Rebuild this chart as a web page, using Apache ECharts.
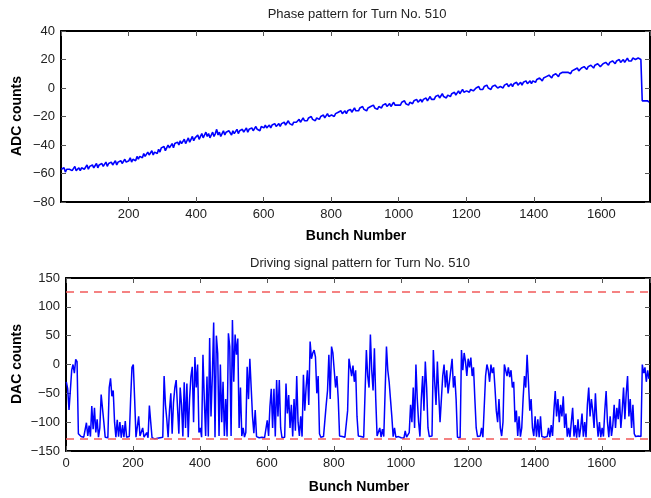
<!DOCTYPE html>
<html>
<head>
<meta charset="utf-8">
<script src="https://cdn.jsdelivr.net/npm/echarts@6/dist/echarts.min.js"></script>
<style>
  html, body { margin: 0; padding: 0; background: #fff; }
  #chart { width: 651px; height: 498px; }
</style>
</head>
<body>
<div id="chart"></div>
<script>
// Bunch sampling: one recorded value every BUNCH_STEP bunches, starting at BUNCH_FIRST
const TURN = 510;
const BUNCH_FIRST = 1;
const BUNCH_STEP = 4;
const BUNCH_MAX = 1744;
const bunchTicks = [0, 200, 400, 600, 800, 1000, 1200, 1400, 1600];
const adcTicks = [-80, -60, -40, -20, 0, 20, 40];
const dacTicks = [-150, -100, -50, 0, 50, 100, 150];
// DAC saturation limits
const dacLimits = [127, -128];

// Phase pattern (ADC counts), bunches 1..1741
const phaseAdc = [
  -57,-58,-56,-59,-57,-58,-57,-56,-58,-57,-55,-58,-57,-56,-58,-56,-55,-57,-56,-54,-57,-55,-56,-54,-56,
  -55,-53,-56,-54,-55,-53,-55,-54,-52,-55,-53,-54,-52,-54,-53,-51,-54,-52,-53,-51,-53,-52,-50,-52,-51,
  -51,-49,-52,-50,-49,-51,-48,-50,-48,-47,-49,-46,-48,-47,-45,-47,-46,-44,-47,-45,-44,-46,-43,-45,-42,
  -43,-41,-44,-42,-40,-42,-41,-39,-42,-39,-40,-38,-40,-37,-39,-38,-36,-39,-37,-35,-38,-36,-34,-37,-35,
  -35,-33,-36,-34,-32,-35,-33,-31,-34,-32,-35,-33,-31,-34,-32,-29,-33,-31,-34,-32,-30,-33,-31,-32,-30,
  -31,-33,-30,-32,-31,-29,-32,-30,-31,-29,-31,-30,-28,-31,-29,-30,-28,-30,-29,-27,-29,-28,-30,-27,-28,
  -28,-26,-28,-27,-26,-28,-26,-27,-25,-27,-26,-25,-27,-25,-26,-24,-26,-25,-23,-25,-24,-26,-24,-23,-24,
  -24,-22,-24,-23,-21,-23,-22,-23,-21,-22,-20,-22,-21,-23,-21,-20,-22,-20,-21,-19,-21,-20,-18,-20,-19,
  -19,-18,-20,-18,-19,-17,-18,-16,-18,-17,-16,-18,-16,-17,-15,-17,-16,-14,-16,-15,-16,-14,-15,-13,-15,
  -14,-16,-14,-15,-13,-14,-12,-14,-13,-15,-13,-12,-14,-12,-13,-11,-13,-12,-11,-13,-12,-10,-12,-11,-12,
  -11,-12,-10,-11,-9,-11,-10,-12,-10,-9,-11,-9,-10,-8,-10,-9,-8,-10,-8,-9,-7,-9,-8,-6,-8,
  -7,-8,-6,-7,-5,-7,-6,-4,-6,-5,-7,-5,-4,-6,-4,-5,-3,-5,-4,-2,-4,-3,-1,-3,-2,
  -2,-1,-3,-1,0,-2,-1,0,-1,1,-1,0,-1,1,0,2,0,1,-1,1,0,2,1,0,1,
  1,2,0,2,1,3,1,2,3,1,3,2,4,2,3,4,2,4,3,5,3,4,5,3,5,
  5,4,6,5,7,6,5,7,6,8,7,9,8,7,9,8,10,9,8,10,9,11,10,11,10,
  11,12,10,12,11,13,12,14,12,13,14,13,15,14,13,15,14,16,15,14,16,15,17,16,15,
  16,17,16,18,17,16,18,17,19,18,17,19,18,20,18,19,20,18,19,21,19,20,19,21,20,
  20,19,21,20,20,-9,-10,-9,-8,-9,-10
];

// Driving signal pattern (DAC counts), bunches 1..1741
const drivingDac = [
  -30,-42,-79,-45,-10,0,-15,9,5,-120,-123,-125,-124,-126,-125,-101,-124,-106,-125,-72,-112,-75,-118,-95,-126,
  -110,-52,-49,-100,-126,-124,-127,-40,-24,-55,-45,-100,-126,-96,-125,-100,-127,-105,-126,-98,-126,-127,-125,-60,-5,
  0,-60,-126,-125,-90,-124,-127,-110,-126,-128,-118,-127,-71,-100,-127,-128,-129,-127,-128,-129,-127,-128,-126,-20,-70,
  -95,-126,-80,-50,-120,-66,-40,-27,-74,-120,-40,-70,-125,-31,-110,-33,-126,-60,-21,-4,-100,13,-40,0,-118,
  -110,-126,17,-60,-124,-21,-125,46,-90,-20,73,-126,50,20,-124,0,-100,-30,-124,-60,-125,54,31,-124,77,
  -30,52,17,45,-110,-40,-124,-110,-126,-118,-4,-60,10,-40,-90,-119,-79,-125,-126,-127,-128,-126,-129,-127,-128,
  -97,-124,-73,-42,-110,-42,-125,-27,-90,-27,-110,-127,-128,-126,-33,-85,-53,-110,-70,-125,-60,-115,-20,-100,-124,
  -90,-125,-18,-80,-40,-10,-70,40,10,20,25,13,-50,-20,-120,-126,-127,-125,-126,-70,-45,17,-60,31,20,
  -10,-40,-20,-60,-124,-126,-125,-127,-126,-124,-80,10,-5,-20,-2,-30,-10,-90,-124,-126,-125,-127,-126,-124,25,
  -20,-40,52,-10,-45,28,-60,-124,-125,-110,-126,-112,-125,-124,31,-10,-30,-60,-90,-125,-110,-126,-127,-125,-126,
  -127,-126,-128,-115,-126,-127,-118,-70,-100,-40,-110,0,-60,-100,-125,-60,-20,-80,5,-40,-110,-125,-126,-124,25,
  -30,-70,5,-50,-100,-60,-20,0,-40,-10,-50,-30,-10,10,-40,-20,-60,-126,-125,-127,25,-10,20,5,-20,
  10,-5,12,-20,-5,-60,-110,-125,-126,-124,-110,-126,-125,-20,0,-10,-30,0,-15,-5,-40,-80,-100,-60,-110,
  -124,-100,0,-10,-20,-5,-22,-10,-40,-30,-100,-80,-124,-90,-125,-110,-60,-20,-40,17,-30,-80,-60,-110,-124,
  -90,-125,-95,-126,-90,-125,-127,-126,-128,-125,-110,-126,-105,-124,-80,-46,-90,-60,-100,-70,-90,-55,-110,-85,-125,
  -110,-126,-100,-75,-125,-105,-127,-95,-126,-110,-85,-125,-100,-126,-70,-40,-90,-60,-80,-110,-50,-95,-125,-100,-126,
  -110,-125,-80,-46,-100,-126,-90,-124,-105,-70,-110,-75,-95,-60,-110,-80,-40,-95,-50,-20,-90,-60,-110,-70,-120,
  -125,-126,-124,-127,-125,0,-15,-5,-30,-10,-25
];

const FONT = '"Liberation Sans", Arial, Helvetica, sans-serif';
const withBunch = arr => arr.map((v, i) => [BUNCH_FIRST + i * BUNCH_STEP, v]);
const signed = v => (v < 0 ? '\u2212' + Math.abs(v) : String(v));

const frameLine = { show: true, onZero: false, lineStyle: { color: '#000', width: 2 } };
const innerTick = { show: true, inside: true, length: 5, lineStyle: { color: '#555', width: 1 } };
const tickLabel = { fontSize: 13, color: '#222', fontFamily: FONT, margin: 6, formatter: signed };

function xAxisPair(grid, showZero) {
  const base = {
    gridIndex: grid, type: 'value', min: bunchTicks[0], max: BUNCH_MAX,
    interval: bunchTicks[1] - bunchTicks[0],
    axisLine: frameLine, axisTick: innerTick, splitLine: { show: false }
  };
  return [
    Object.assign({}, base, { position: 'bottom',
      axisLabel: Object.assign({}, tickLabel, { showMinLabel: showZero, showMaxLabel: false }) }),
    Object.assign({}, base, { position: 'top', axisLabel: { show: false } })
  ];
}
function yAxisPair(grid, ticks) {
  const base = {
    gridIndex: grid, type: 'value', min: ticks[0], max: ticks[ticks.length - 1],
    interval: ticks[1] - ticks[0],
    axisLine: frameLine, axisTick: innerTick, splitLine: { show: false }
  };
  return [
    Object.assign({}, base, { position: 'left', axisLabel: tickLabel }),
    Object.assign({}, base, { position: 'right', axisLabel: { show: false } })
  ];
}

function label(text, x, y, opts) {
  return Object.assign({
    type: 'text', x: x, y: y, silent: true,
    style: Object.assign({
      text: text, align: 'center', verticalAlign: 'middle',
      fontFamily: FONT, fontSize: 13, fill: '#222'
    }, (opts && opts.style) || {})
  }, (opts && opts.el) || {});
}

const chart = echarts.init(document.getElementById('chart'), null, { renderer: 'canvas' });
chart.setOption({
  animation: false,
  backgroundColor: '#fff',
  grid: [
    { left: 61, right: 1, top: 31, height: 171 },
    { left: 66, right: 1, top: 278, height: 173 }
  ],
  xAxis: [].concat(xAxisPair(0, false), xAxisPair(1, true)),
  yAxis: [].concat(yAxisPair(0, adcTicks), yAxisPair(1, dacTicks)),
  series: [
    {
      name: 'Phase', type: 'line', xAxisIndex: 0, yAxisIndex: 0,
      data: withBunch(phaseAdc), showSymbol: false, symbol: 'none',
      lineStyle: { color: '#0000ff', width: 1.6 }, z: 2
    },
    {
      name: 'Driving signal', type: 'line', xAxisIndex: 2, yAxisIndex: 2,
      data: withBunch(drivingDac), showSymbol: false, symbol: 'none',
      lineStyle: { color: '#0000ff', width: 1.5 }, z: 2,
      markLine: {
        silent: true, symbol: 'none', animation: false,
        label: { show: false },
        lineStyle: { color: '#f25a5a', type: [8, 6], width: 1.5 },
        data: dacLimits.map(v => ({ yAxis: v }))
      }
    }
  ],
  graphic: [
    label('Phase pattern for Turn No. ' + TURN, 357, 14),
    label('Driving signal pattern for Turn No. ' + TURN, 360, 263),
    label('Bunch Number', 356, 236, { style: { fontWeight: 'bold', fontSize: 14, fill: '#000' } }),
    label('Bunch Number', 359, 487, { style: { fontWeight: 'bold', fontSize: 14, fill: '#000' } }),
    label('ADC counts', 17, 116, { style: { fontWeight: 'bold', fontSize: 14, fill: '#000' }, el: { rotation: Math.PI / 2 } }),
    label('DAC counts', 17, 364, { style: { fontWeight: 'bold', fontSize: 14, fill: '#000' }, el: { rotation: Math.PI / 2 } })
  ]
});
</script>
</body>
</html>
